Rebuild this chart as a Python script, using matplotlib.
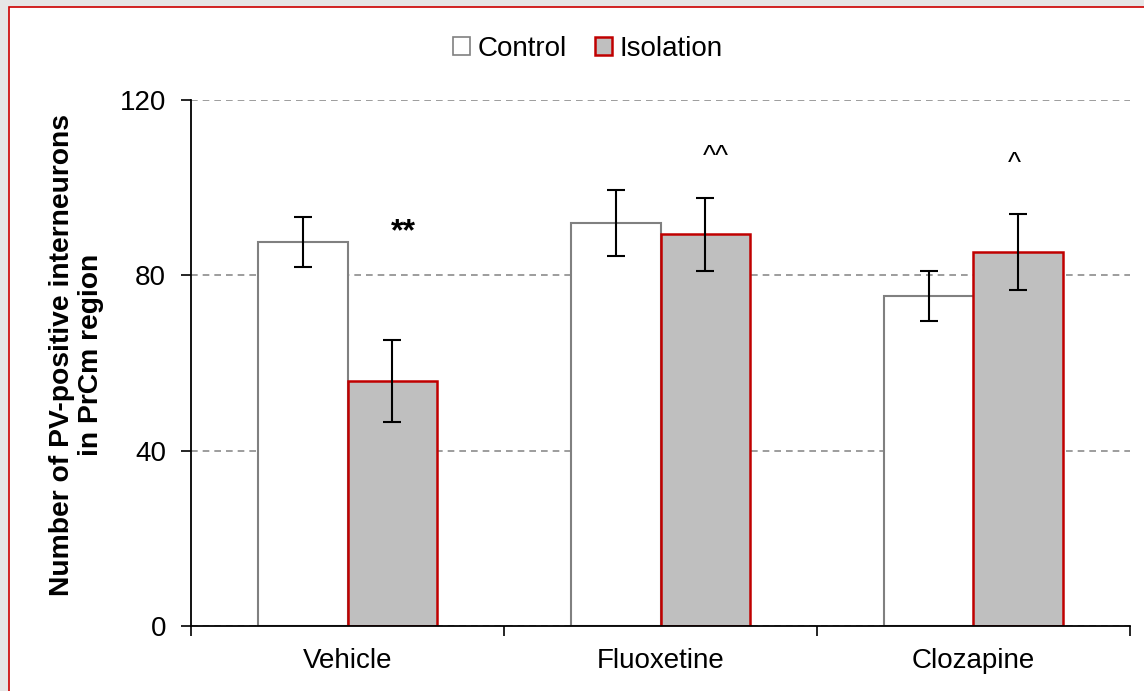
import matplotlib
matplotlib.use("Agg")
import matplotlib.pyplot as plt
from matplotlib.patches import Rectangle, Patch
import numpy as np

plt.rcParams['font.family'] = ['Liberation Sans', 'DejaVu Sans']

groups = ['Vehicle', 'Fluoxetine', 'Clozapine']
control = [87.6, 91.9, 75.3]
control_err = [5.8, 7.6, 5.7]
isolation = [55.9, 89.4, 85.3]
isolation_err = [9.4, 8.3, 8.7]
marks = ['**', '^^', '^']
mark_y = [86.5, 104, 102.5]

fig = plt.figure(figsize=(11.44, 6.91), dpi=100)
fig.patch.set_facecolor('#e6e6e6')
# white panel with red frame
fig.patches.append(Rectangle((8.5 / 1144, -0.05), 1.1, (691 - 6.5) / 691 + 0.05,
                             transform=fig.transFigure, facecolor='white',
                             edgecolor='#cc0000', linewidth=1.2, zorder=-5))

ax = fig.add_axes([191 / 1144, 1 - 626 / 691, (1130 - 191) / 1144, (626 - 100) / 691])
ax.set_facecolor('none')

x = np.arange(len(groups))
w = 0.286
ax.bar(x - w / 2, control, w, color='white', edgecolor='#808080', linewidth=1.5, zorder=2)
ax.bar(x + w / 2, isolation, w, color='#bfbfbf', edgecolor='#c00000', linewidth=1.8, zorder=2)
ax.errorbar(x - w / 2, control, yerr=control_err, fmt='none', ecolor='black',
            elinewidth=1.5, capsize=6.5, capthick=1.5, zorder=3)
ax.errorbar(x + w / 2, isolation, yerr=isolation_err, fmt='none', ecolor='black',
            elinewidth=1.5, capsize=6.5, capthick=1.5, zorder=3)

# significance marks above the isolation bars
mark_dx = [0.037, 0.035, -0.013]
mark_size = [23, 20, 20]
mark_weight = ['bold', 'normal', 'normal']
for i, m in enumerate(marks):
    ax.text(x[i] + w / 2 + mark_dx[i], mark_y[i], m, ha='center', va='bottom',
            fontsize=mark_size[i], fontweight=mark_weight[i])

ax.set_ylim(0, 120)
ax.set_yticks([0, 40, 80, 120])
ax.set_xlim(-0.5, 2.5)
ax.set_xticks(x)
ax.set_xticklabels(groups)
ax.set_xticks([-0.5, 0.5, 1.5, 2.5], minor=True)
ax.tick_params(axis='x', which='major', length=0, pad=16, labelsize=20)
ax.tick_params(axis='x', which='minor', length=7, width=1.2, direction='out')
ax.tick_params(axis='y', length=7, width=1.2, labelsize=20, pad=11)

ax.yaxis.grid(True, linestyle=(0, (4, 3)), color='#8c8c8c', linewidth=1.2, zorder=0)
ax.set_axisbelow(True)
for s in ['top', 'right']:
    ax.spines[s].set_visible(False)
for s in ['left', 'bottom']:
    ax.spines[s].set_linewidth(1.3)

ax.set_ylabel('Number of PV-positive interneurons\nin PrCm region', fontsize=20.3,
              fontweight='bold', linespacing=1.15)
ax.yaxis.set_label_coords(-0.0927, 0.515)

handles = [Patch(facecolor='white', edgecolor='#808080', linewidth=1.2, label='Control'),
           Patch(facecolor='#bfbfbf', edgecolor='#c00000', linewidth=1.8, label='Isolation')]
fig.legend(handles=handles, loc='center', bbox_to_anchor=(0.514, 0.929), ncol=2,
           frameon=False, fontsize=20, handlelength=0.6, handleheight=0.6,
           handletextpad=0.3, columnspacing=1.0)

fig.savefig('out.png', dpi=100, facecolor=fig.get_facecolor())
